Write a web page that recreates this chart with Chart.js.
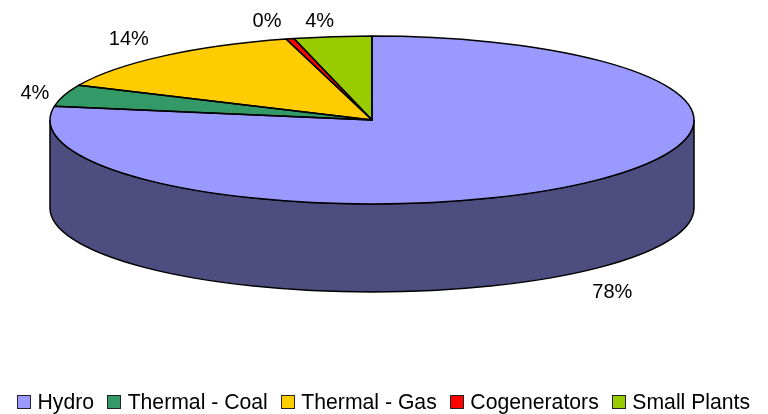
<!DOCTYPE html>
<html>
<head>
<meta charset="utf-8">
<style>html,body{margin:0;padding:0;background:#fff}canvas{display:block}</style>
<script src="https://cdn.jsdelivr.net/npm/chart.js@4"></script>
</head>
<body>
<canvas id="c" width="768" height="414"></canvas>
<script>
const categories = ['Hydro', 'Thermal - Coal', 'Thermal - Gas', 'Cogenerators', 'Small Plants'];
const shares = [77.6, 4.2, 13.9, 0.4, 3.9];
const colors = ['#9999FF', '#339966', '#FFCC00', '#FF0000', '#99CC00'];
const labelNudges = [[32, 20.5], [-29, -2.5], [-34, -16.5], [-23, -17.5], [-13, -15.5]];

const CX = 372, CY = 120, RX = 322, RY = 84, DEPTH = 88;
const FONT = '"Liberation Sans", Arial, sans-serif';

function darken(hex) {
  const n = parseInt(hex.slice(1), 16);
  const f = v => Math.round(v * 0.502);
  return `rgb(${f(n >> 16 & 255)},${f(n >> 8 & 255)},${f(n & 255)})`;
}

const pie3d = {
  id: 'pie3d',
  afterLayout(chart) {
    const a = chart.chartArea;
    a.left = CX - RX; a.right = CX + RX; a.top = CY - RX; a.bottom = CY + RX;
    a.width = 2 * RX; a.height = 2 * RX;
    chart.legend.top += 10; chart.legend.bottom += 10;
  },
  beforeDatasetsDraw(chart) {
    const ctx = chart.ctx;
    const arcs = chart.getDatasetMeta(0).data;
    ctx.save();
    ctx.lineWidth = 1.5;
    ctx.strokeStyle = '#000';
    arcs.forEach((arc, i) => {
      const a0 = Math.max(arc.startAngle, 0), a1 = Math.min(arc.endAngle, Math.PI);
      if (a1 <= a0) return;
      ctx.beginPath();
      ctx.ellipse(CX, CY, RX, RY, 0, a0, a1);
      ctx.ellipse(CX, CY + DEPTH, RX, RY, 0, a1, a0, true);
      ctx.closePath();
      ctx.fillStyle = darken(colors[i]);
      ctx.fill();
      ctx.stroke();
    });
    ctx.restore();
    ctx.save();
    ctx.translate(CX, CY);
    ctx.scale(1, RY / RX);
    ctx.translate(-CX, -CY);
  },
  afterDatasetsDraw(chart) {
    const ctx = chart.ctx;
    ctx.restore();
    const arcs = chart.getDatasetMeta(0).data;
    const total = shares.reduce((s, v) => s + v, 0);
    ctx.save();
    ctx.lineWidth = 1.5;
    ctx.strokeStyle = '#000';
    ctx.lineJoin = 'round';
    arcs.forEach(arc => {
      ctx.beginPath();
      ctx.moveTo(CX, CY);
      ctx.ellipse(CX, CY, RX, RY, 0, arc.startAngle, arc.endAngle);
      ctx.closePath();
      ctx.stroke();
    });
    ctx.fillStyle = '#000';
    ctx.font = '20px ' + FONT;
    ctx.textAlign = 'center';
    ctx.textBaseline = 'middle';
    arcs.forEach((arc, i) => {
      const mid = (arc.startAngle + arc.endAngle) / 2;
      const sinM = Math.sin(mid);
      const x = CX + RX * Math.cos(mid) + labelNudges[i][0];
      const y = CY + RY * sinM + (sinM > 0 ? DEPTH : 0) + labelNudges[i][1];
      ctx.fillText(Math.round(shares[i] / total * 100) + '%', x, y);
    });
    ctx.restore();
  },
  afterDraw(chart) {
    const ctx = chart.ctx;
    ctx.save();
    ctx.lineWidth = 1;
    ctx.strokeStyle = '#222';
    chart.legend.legendHitBoxes.forEach((h, i) => {
      ctx.fillStyle = colors[i];
      ctx.fillRect(Math.round(h.left) - 1 + 0.5, 395.5, 13, 13);
      ctx.strokeRect(Math.round(h.left) - 1 + 0.5, 395.5, 13, 13);
    });
    ctx.restore();
  }
};

new Chart(document.getElementById('c'), {
  type: 'pie',
  data: {
    labels: categories,
    datasets: [{ data: shares, backgroundColor: colors, borderWidth: 0, clip: false }]
  },
  options: {
    responsive: false,
    animation: false,
    radius: RX,
    events: [],
    plugins: {
      tooltip: { enabled: false },
      legend: {
        position: 'bottom',
        labels: {
          font: { family: FONT, size: 21.2 },
          color: '#000',
          boxWidth: 9,
          boxHeight: 13,
          padding: 14,
          generateLabels: () => categories.map((t, i) => ({
            text: t, fillStyle: 'rgba(0,0,0,0)', strokeStyle: 'rgba(0,0,0,0)', lineWidth: 0, index: i
          }))
        }
      }
    }
  },
  plugins: [pie3d]
});
</script>
</body>
</html>
